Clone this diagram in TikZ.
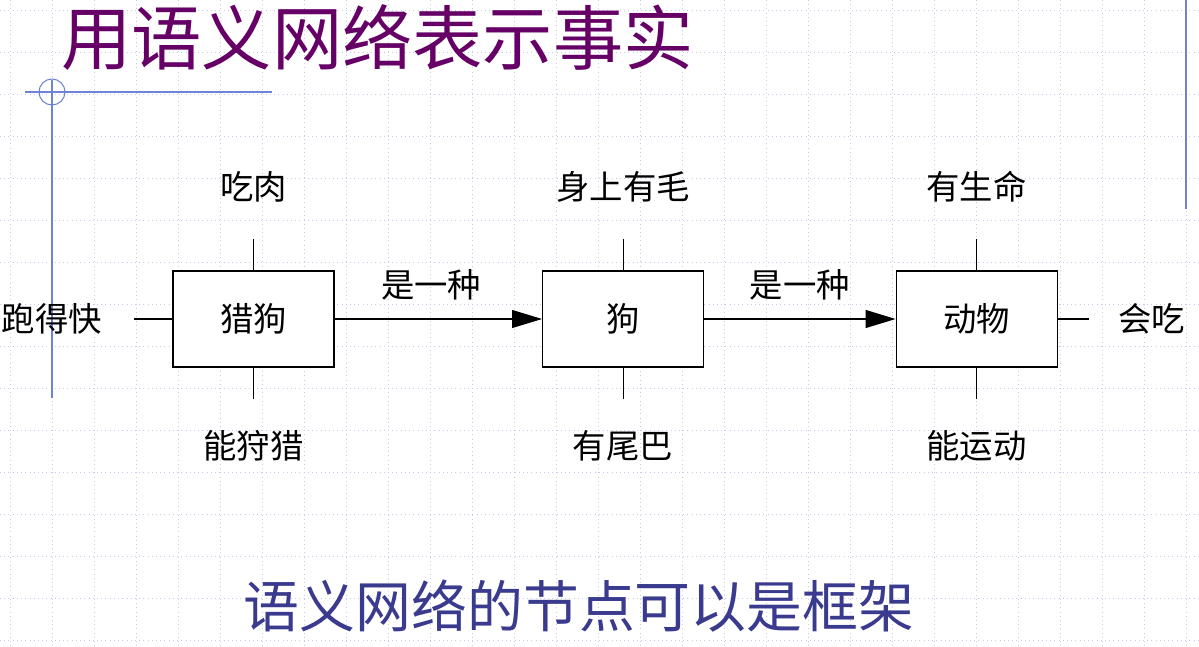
\documentclass[tikz,border=0pt]{standalone}
\usepackage{fontspec}
\setmainfont{Noto Sans CJK SC}
\usetikzlibrary{arrows.meta,positioning,calc}
\definecolor{ink}{HTML}{000000}
\definecolor{plum}{HTML}{660066}
\definecolor{navy}{HTML}{3A3A8E}
\definecolor{rule}{HTML}{6F83D6}
\definecolor{gridc}{HTML}{C6CAE8}

\begin{document}
\begin{tikzpicture}[
  font=\fontsize{19}{21}\selectfont, >={Triangle[length=0.6cm, width=0.36cm]},
  frm/.style={draw=ink, line width=0.6pt, fill=white, minimum width=3.22cm, minimum height=1.92cm, inner sep=0pt},
  slot/.style={inner sep=0pt},
  isa/.style={->, draw=ink, line width=0.6pt},
  stub/.style={draw=ink, line width=0.6pt},
  deco/.style={draw=rule, line width=0.6pt}]
\fill[white] (0,0) rectangle (23.98,-12.94);
\useasboundingbox (0,0) rectangle (23.98,-12.94);
% background grid
\foreach \i in {0,...,28} \draw[gridc, dotted, line width=0.4pt] (0.2+0.84*\i,0) -- (0.2+0.84*\i,-12.94);
\foreach \j in {0,...,15} \draw[gridc, dotted, line width=0.4pt] (0,-0.2-0.84*\j) -- (23.98,-0.2-0.84*\j);
% slide rules
\draw[deco] (0.5,-1.84) -- (5.44,-1.84);
\draw[deco] (1.04,-1.6) -- (1.04,-7.96);
\draw[deco] (1.04,-1.84) circle (0.26);
\draw[deco] (23.72,0) -- (23.72,-4.18);
\node[text=plum, font=\fontsize{40}{44}\selectfont] (title) at (7.55,-0.76) {用语义网络表示事实};
\node[text=navy, font=\fontsize{31.8}{35}\selectfont] (note) at (11.58,-12.12) {语义网络的节点可以是框架};
% frames
\node[frm] (hound) at (5.07,-6.38) {猎狗};
\node[frm, right=4.15cm of hound] (dog) {狗};
\node[frm, right=3.83cm of dog] (animal) {动物};
\node[slot] (meat) at ($(hound)+(0,2.64)$) {吃肉};
\node[slot] (hunt) at ($(hound)+(0,-2.54)$) {能狩猎};
\node[slot] (fast) at ($(hound)+(-4.03,0)$) {跑得快};
\node[slot] (fur) at ($(dog)+(0,2.64)$) {身上有毛};
\node[slot] (tail) at ($(dog)+(0,-2.54)$) {有尾巴};
\node[slot] (life) at ($(animal)+(0,2.64)$) {有生命};
\node[slot] (move) at ($(animal)+(0,-2.54)$) {能运动};
\node[slot] (eat) at ($(animal)+(3.5,0)$) {会吃};
\draw[isa] (hound) -- node[yshift=0.68cm, xshift=-0.14cm] (kind1) {是一种} (dog);
\draw[isa] (dog) -- node[yshift=0.68cm] (kind2) {是一种} (animal);
\draw[stub, shorten >=1.04cm] (hound.north) -- (meat.center);
\draw[stub, shorten >=0.94cm] (hound.south) -- (hunt.center);
\draw[stub, shorten >=1.64cm] (hound.west) -- (fast.center);
\draw[stub, shorten >=1.04cm] (dog.north) -- (fur.center);
\draw[stub, shorten >=0.94cm] (dog.south) -- (tail.center);
\draw[stub, shorten >=1.04cm] (animal.north) -- (life.center);
\draw[stub, shorten >=0.94cm] (animal.south) -- (move.center);
\draw[stub, shorten >=1.26cm] (animal.east) -- (eat.center);
\end{tikzpicture}
\end{document}
